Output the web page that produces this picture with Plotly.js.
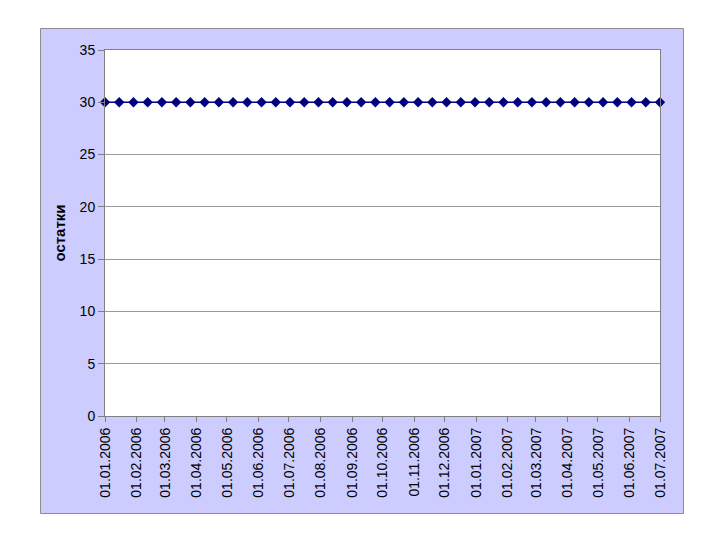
<!DOCTYPE html>
<html>
<head>
<meta charset="utf-8">
<script src="https://cdn.plot.ly/plotly-3.0.1.min.js"></script>
<style>html,body{margin:0;padding:0;background:#fff;}#chart{width:720px;height:540px;}</style>
</head>
<body>
<div id="chart"></div>
<script>
const dates = [
  "2006-01-01","2006-01-15","2006-01-29","2006-02-12","2006-02-26","2006-03-12","2006-03-26","2006-04-09",
  "2006-04-23","2006-05-07","2006-05-21","2006-06-04","2006-06-18","2006-07-02","2006-07-16","2006-07-30",
  "2006-08-13","2006-08-27","2006-09-10","2006-09-24","2006-10-08","2006-10-22","2006-11-05","2006-11-19",
  "2006-12-03","2006-12-17","2006-12-31","2007-01-14","2007-01-28","2007-02-11","2007-02-25","2007-03-11",
  "2007-03-25","2007-04-08","2007-04-22","2007-05-06","2007-05-20","2007-06-03","2007-06-17","2007-07-01"
];
const ostatki = [
  30,30,30,30,30,30,30,30,30,30,
  30,30,30,30,30,30,30,30,30,30,
  30,30,30,30,30,30,30,30,30,30,
  30,30,30,30,30,30,30,30,30,30
];
const tickDates = [
  "2006-01-01","2006-02-01","2006-03-01","2006-04-01","2006-05-01","2006-06-01","2006-07-01",
  "2006-08-01","2006-09-01","2006-10-01","2006-11-01","2006-12-01","2007-01-01","2007-02-01",
  "2007-03-01","2007-04-01","2007-05-01","2007-06-01","2007-07-01"
];
const tickLabels = [
  "01.01.2006","01.02.2006","01.03.2006","01.04.2006","01.05.2006","01.06.2006","01.07.2006",
  "01.08.2006","01.09.2006","01.10.2006","01.11.2006","01.12.2006","01.01.2007","01.02.2007",
  "01.03.2007","01.04.2007","01.05.2007","01.06.2007","01.07.2007"
];
const yTitle = "остатки";

const L = 105, R = 660, T = 50, B = 416, W = 720, H = 540;
const pw = R - L, ph = B - T;
const px = v => (v - L) / pw;
const py = v => (B - v) / ph;

const trace = {
  x: dates, y: ostatki, type: 'scatter', mode: 'lines+markers',
  line: {color: '#000080', width: 1.5},
  marker: {symbol: 'diamond', size: 8, color: '#000080'},
  cliponaxis: false, hoverinfo: 'skip'
};

const layout = {
  width: W, height: H,
  margin: {l: L, r: W - R, t: T, b: H - B},
  paper_bgcolor: '#ffffff', plot_bgcolor: '#ffffff',
  showlegend: false,
  font: {family: 'Liberation Sans, Arial, sans-serif', size: 14, color: '#000'},
  xaxis: {
    type: 'date', range: ['2006-01-01', '2007-07-01'],
    tickmode: 'array', tickvals: tickDates, ticktext: tickLabels,
    tickangle: -90, ticks: 'outside', ticklen: 5, tickcolor: '#808080',
    showgrid: false, showline: true, linecolor: '#808080', linewidth: 1, mirror: true,
    zeroline: false, tickfont: {size: 14}
  },
  yaxis: {
    range: [0, 35], dtick: 5, tick0: 0,
    ticks: 'outside', ticklen: 6, tickcolor: '#808080',
    showgrid: true, gridcolor: '#9a9a9a', gridwidth: 1,
    showline: true, linecolor: '#808080', linewidth: 1, mirror: true,
    zeroline: false, tickfont: {size: 14},
    title: {text: yTitle, font: {size: 15, weight: 'bold'}, standoff: 10}
  },
  shapes: [
    {type: 'rect', xref: 'paper', yref: 'paper', layer: 'below',
     x0: px(40.5), x1: px(683.5), y0: py(513.5), y1: py(28.5),
     fillcolor: '#ccccff', line: {color: '#8c8c8c', width: 1}},
    {type: 'rect', xref: 'paper', yref: 'paper', layer: 'below',
     x0: 0, x1: 1, y0: 0, y1: 1,
     fillcolor: '#ffffff', line: {width: 0}}
  ]
};

Plotly.newPlot('chart', [trace], layout, {displayModeBar: false, staticPlot: true});
</script>
</body>
</html>
